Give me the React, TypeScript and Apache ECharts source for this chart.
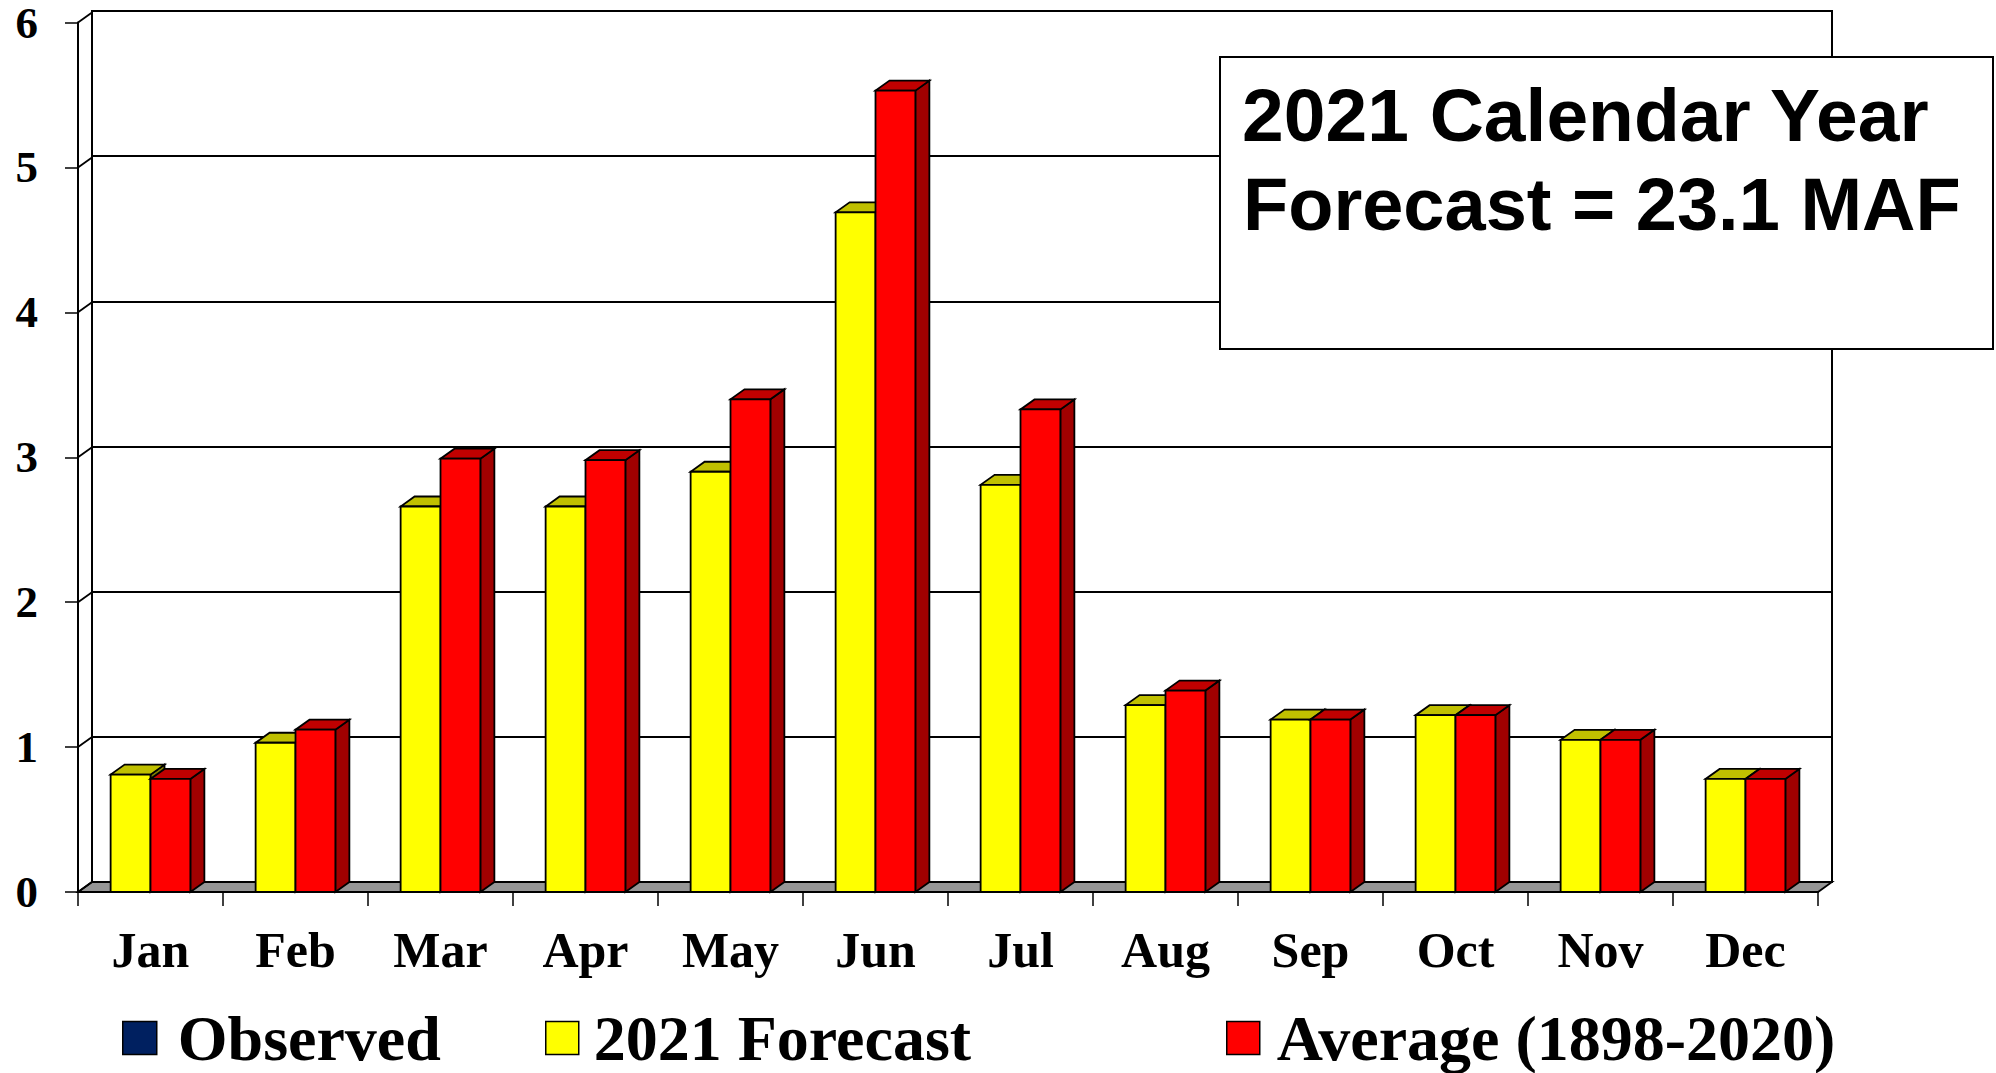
import React, { useEffect, useRef } from 'react';
import * as echarts from 'echarts';

const months = ['Jan', 'Feb', 'Mar', 'Apr', 'May', 'Jun', 'Jul', 'Aug', 'Sep', 'Oct', 'Nov', 'Dec'];
const forecast2021 = [0.81, 1.03, 2.66, 2.66, 2.9, 4.69, 2.81, 1.29, 1.19, 1.22, 1.05, 0.78];
const average18982020 = [0.78, 1.12, 2.99, 2.98, 3.4, 5.53, 3.33, 1.39, 1.19, 1.22, 1.05, 0.78];
const observed: number[] = [];
const yTicks = [0, 1, 2, 3, 4, 5, 6];
const boxLines = ['2021 Calendar Year', 'Forecast = 23.1 MAF'];

const DX = 14;
const DY = -10;
const BAR_FRAC = 0.275;
const SERIF = '"Liberation Serif", "Times New Roman", serif';
const SANS = '"Liberation Sans", Arial, sans-serif';

function makeBarRenderer(slot: number, front: string, top: string, side: string) {
  return (params: any, api: any) => {
    const c = api.value(0);
    const v = api.value(1);
    const base = api.coord([c, 0]);
    const tip = api.coord([c, v]);
    const band = api.size([1, 0])[0];
    const w = band * BAR_FRAC;
    const x0 = base[0] - w + slot * w;
    const yb = base[1];
    const yt = tip[1];
    const st = { stroke: '#000', lineWidth: 1.8, lineJoin: 'miter' };
    return {
      type: 'group',
      children: [
        {
          type: 'polygon',
          shape: { points: [[x0 + w, yt], [x0 + w + DX, yt + DY], [x0 + w + DX, yb + DY], [x0 + w, yb]] },
          style: { fill: side, ...st },
        },
        {
          type: 'polygon',
          shape: { points: [[x0, yt], [x0 + w, yt], [x0 + w + DX, yt + DY], [x0 + DX, yt + DY]] },
          style: { fill: top, ...st },
        },
        {
          type: 'rect',
          shape: { x: x0, y: yt, width: w, height: yb - yt },
          style: { fill: front, ...st },
        },
      ],
    };
  };
}

function frameRenderer(params: any, api: any) {
  const v = api.value(1);
  const p = api.coord([0, v]);
  const band = api.size([1, 0])[0];
  const left = p[0] - band / 2;
  const y = p[1];
  const children: any[] = [];
  if (v === 0) {
    const right = api.coord([months.length - 1, 0])[0] + band / 2;
    children.push({
      type: 'polygon',
      shape: { points: [[left, y], [right, y], [right + DX, y + DY], [left + DX, y + DY]] },
      style: { fill: '#969696', stroke: '#000', lineWidth: 1.8 },
    });
  }
  children.push({
    type: 'line',
    shape: { x1: left, y1: y, x2: left + DX, y2: y + DY },
    style: { stroke: '#000', lineWidth: 1.8 },
  });
  return { type: 'group', children };
}

const legendText = (pad: number) => ({
  fontFamily: SERIF,
  fontWeight: 'bold',
  fontSize: 64,
  color: '#000',
  padding: [0, 0, 0, pad],
});

export default function App() {
  const ref = useRef<HTMLDivElement>(null);
  useEffect(() => {
    if (!ref.current) return;
    const chart = echarts.init(ref.current, null, { renderer: 'svg' });
    chart.setOption({
      animation: false,
      backgroundColor: '#fff',
      grid: [
        { left: 78, top: 21, width: 1740, height: 871 },
        { left: 92, top: 11, width: 1740, height: 871, show: true, borderColor: '#000', borderWidth: 2, backgroundColor: 'transparent' },
      ],
      xAxis: [
        {
          type: 'category',
          gridIndex: 0,
          data: months,
          boundaryGap: true,
          axisLine: { show: true, lineStyle: { color: '#000', width: 2 } },
          axisTick: { show: true, length: 14, lineStyle: { color: '#000', width: 1.5 } },
          axisLabel: {
            fontFamily: SERIF,
            fontWeight: 'bold',
            fontSize: 50,
            color: '#000',
            margin: 58,
            verticalAlign: 'middle',
          },
          splitLine: { show: false },
        },
        { type: 'category', gridIndex: 1, data: months, show: false },
      ],
      yAxis: [
        {
          type: 'value',
          gridIndex: 0,
          min: 0,
          max: 6,
          interval: 1,
          axisLine: { show: true, lineStyle: { color: '#000', width: 2 } },
          axisTick: { show: true, length: 13, lineStyle: { color: '#000', width: 1.5 } },
          axisLabel: {
            fontFamily: SERIF,
            fontWeight: 'bold',
            fontSize: 45,
            lineHeight: 34,
            color: '#000',
            margin: 40,
          },
          splitLine: { show: false },
        },
        {
          type: 'value',
          gridIndex: 1,
          min: 0,
          max: 6,
          interval: 1,
          axisLine: { show: false },
          axisTick: { show: false },
          axisLabel: { show: false },
          splitLine: { show: true, lineStyle: { color: '#000', width: 2 } },
        },
      ],
      legend: [
        {
          data: [{ name: 'Observed', icon: 'rect', itemStyle: { color: '#002060', borderColor: '#000', borderWidth: 1.5 } }],
          left: 122,
          top: 1006,
          padding: 0,
          itemWidth: 34,
          itemHeight: 33,
          textStyle: legendText(16),
          selectedMode: false,
        },
        {
          data: [{ name: '2021 Forecast', icon: 'rect', itemStyle: { color: '#FFFF00', borderColor: '#000', borderWidth: 1.5 } }],
          left: 545,
          top: 1006,
          padding: 0,
          itemWidth: 33,
          itemHeight: 33,
          textStyle: legendText(10),
          selectedMode: false,
        },
        {
          data: [{ name: 'Average (1898-2020)', icon: 'rect', itemStyle: { color: '#FF0000', borderColor: '#000', borderWidth: 1.5 } }],
          left: 1226,
          top: 1006,
          padding: 0,
          itemWidth: 33,
          itemHeight: 33,
          textStyle: legendText(12),
          selectedMode: false,
        },
      ],
      series: [
        {
          name: 'frame',
          type: 'custom',
          xAxisIndex: 0,
          yAxisIndex: 0,
          renderItem: frameRenderer,
          data: yTicks.map((v) => [0, v]),
          encode: { x: 0, y: 1 },
          silent: true,
        },
        {
          name: 'Observed',
          type: 'custom',
          xAxisIndex: 0,
          yAxisIndex: 0,
          itemStyle: { color: '#002060' },
          renderItem: makeBarRenderer(0, '#002060', '#001540', '#000c30'),
          data: observed.map((v, i) => [i, v]),
          encode: { x: 0, y: 1 },
        },
        {
          name: '2021 Forecast',
          type: 'custom',
          xAxisIndex: 0,
          yAxisIndex: 0,
          itemStyle: { color: '#FFFF00' },
          renderItem: makeBarRenderer(0, '#FFFF00', '#C0C000', '#808000'),
          data: forecast2021.map((v, i) => [i, v]),
          encode: { x: 0, y: 1 },
        },
        {
          name: 'Average (1898-2020)',
          type: 'custom',
          xAxisIndex: 0,
          yAxisIndex: 0,
          itemStyle: { color: '#FF0000' },
          renderItem: makeBarRenderer(1, '#FF0000', '#C00000', '#A00000'),
          data: average18982020.map((v, i) => [i, v]),
          encode: { x: 0, y: 1 },
        },
      ],
      graphic: [
        {
          type: 'rect',
          z: 100,
          shape: { x: 1220, y: 57, width: 773, height: 292 },
          style: { fill: '#fff', stroke: '#000', lineWidth: 2 },
        },
        {
          type: 'text',
          z: 101,
          x: 1242,
          y: 115,
          style: { text: boxLines[0], font: `bold 75px ${SANS}`, fill: '#000', verticalAlign: 'middle' },
        },
        {
          type: 'text',
          z: 101,
          x: 1243,
          y: 204,
          style: { text: boxLines[1], font: `bold 74px ${SANS}`, fill: '#000', verticalAlign: 'middle' },
        },
      ],
    });
    return () => chart.dispose();
  }, []);
  return (
    <div
      ref={ref}
      style={{ position: 'absolute', left: 0, top: 0, width: '1996px', height: '1073px' }}
    />
  );
}
